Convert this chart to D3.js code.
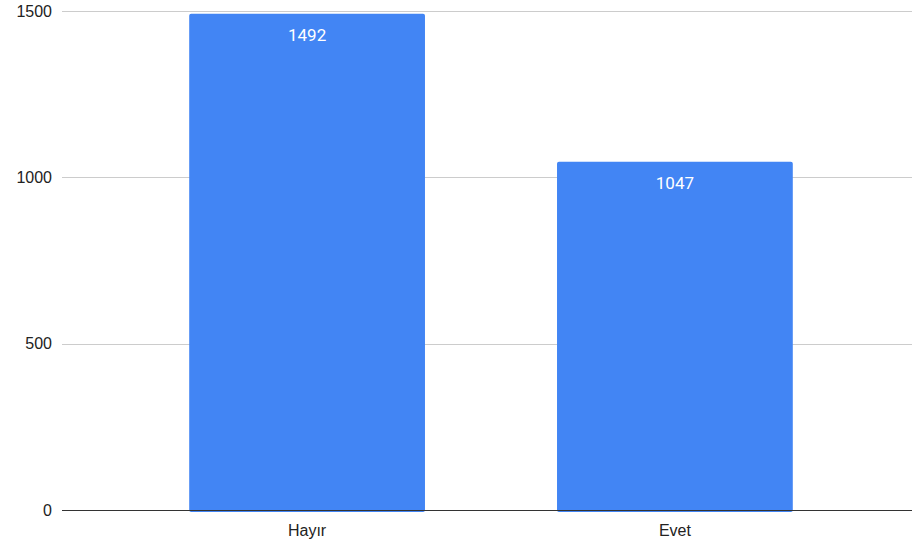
<!DOCTYPE html>
<html>
<head>
<meta charset="utf-8">
<script src="https://cdn.jsdelivr.net/npm/d3@7"></script>
<style>
  body { margin: 0; background: #fff; }
  svg { display: block; }
</style>
</head>
<body>
<svg id="chart"></svg>
<script>
const categories = ["Hayır", "Evet"];
const values = [1492, 1047];
const yTicks = [0, 500, 1000, 1500];

const w = 912, h = 552;
const plotLeft = 62, plotRight = 912;

const svg = d3.select("#chart")
  .attr("width", w)
  .attr("height", h);

const y = d3.scaleLinear()
  .domain([0, 1500])
  .range([510, 11]);

const x = d3.scaleBand()
  .domain(categories)
  .range([123, 859])
  .paddingInner(0.359)
  .paddingOuter(0.18);

// gridlines
svg.append("g")
  .selectAll("line")
  .data(yTicks.filter(d => d > 0))
  .enter()
  .append("line")
  .attr("x1", plotLeft)
  .attr("x2", plotRight)
  .attr("y1", d => Math.round(y(d)) + 0.5)
  .attr("y2", d => Math.round(y(d)) + 0.5)
  .attr("stroke", "#cccccc")
  .attr("stroke-width", 1);

// y tick labels
svg.append("g")
  .selectAll("text")
  .data(yTicks)
  .enter()
  .append("text")
  .text(d => d)
  .attr("x", 52)
  .attr("y", d => y(d))
  .attr("dy", "0.35em")
  .attr("text-anchor", "end")
  .attr("font-family", "Arial, 'Liberation Sans', sans-serif")
  .attr("font-size", "16px")
  .attr("fill", "#222");

// bars
const data = categories.map((c, i) => ({ cat: c, val: values[i] }));

svg.append("g")
  .selectAll("rect")
  .data(data)
  .enter()
  .append("rect")
  .attr("x", d => x(d.cat))
  .attr("y", d => y(d.val))
  .attr("width", x.bandwidth())
  .attr("height", d => y(0) - y(d.val) + 2)
  .attr("rx", 2)
  .attr("fill", "#4285f4");

// value labels
svg.append("g")
  .selectAll("text")
  .data(data)
  .enter()
  .append("text")
  .text(d => d.val)
  .attr("x", d => x(d.cat) + x.bandwidth() / 2)
  .attr("y", d => y(d.val) + 21)
  .attr("dy", "0.35em")
  .attr("text-anchor", "middle")
  .attr("font-family", "Roboto, sans-serif")
  .attr("font-size", "17px")
  .attr("fill", "#ffffff");

// baseline
svg.append("line")
  .attr("x1", plotLeft)
  .attr("x2", plotRight)
  .attr("y1", y(0) + 0.5)
  .attr("y2", y(0) + 0.5)
  .attr("stroke", "#333333")
  .attr("stroke-width", 1);

// category labels
svg.append("g")
  .selectAll("text")
  .data(categories)
  .enter()
  .append("text")
  .text(d => d)
  .attr("x", d => x(d) + x.bandwidth() / 2)
  .attr("y", 530)
  .attr("dy", "0.35em")
  .attr("text-anchor", "middle")
  .attr("font-family", "Arial, 'Liberation Sans', sans-serif")
  .attr("font-size", "16px")
  .attr("fill", "#222");
</script>
</body>
</html>
